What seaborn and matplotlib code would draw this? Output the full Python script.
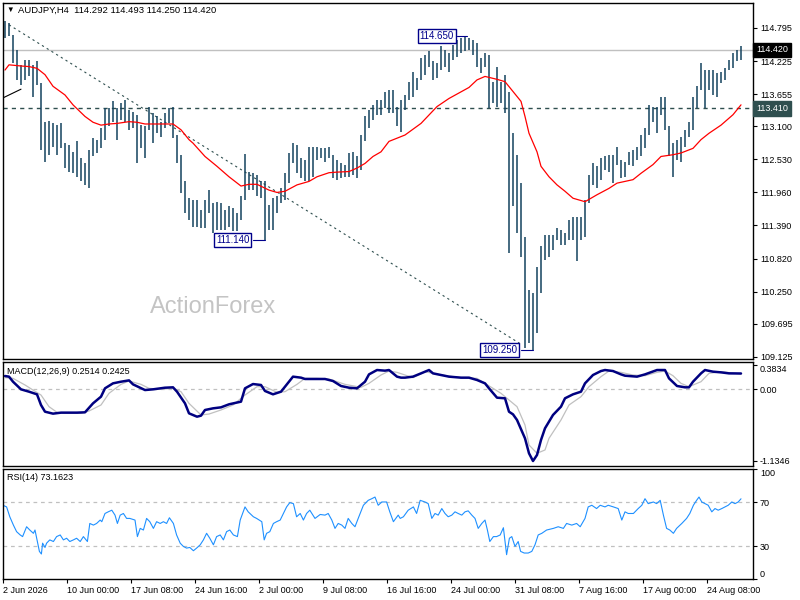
import numpy as np
import pandas as pd
import matplotlib
matplotlib.use("Agg")
import matplotlib.pyplot as plt
import seaborn as sns

# ---- AUDJPY H4 price bars (one slot = two H4 bars) ----
bar_high = [114.92, 114.88, 114.68, 114.42, 114.16, 114.25, 114.25, 114.16, 114.22, 113.84,
            113.18, 113.20, 113.15, 113.12, 113.15, 112.81, 112.78, 112.66, 112.84, 112.55,
            112.46, 112.69, 112.89, 112.87, 113.07, 113.41, 113.41, 113.53, 113.41, 113.50,
            113.56, 113.38, 113.35, 113.30, 113.12, 113.10, 113.44, 113.33, 113.27, 113.18,
            113.33, 113.41, 113.44, 112.95, 112.61, 112.15, 111.86, 111.83, 111.83, 111.66,
            111.83, 112.00, 111.77, 111.80, 111.77, 111.66, 111.72, 111.69, 111.60, 111.89,
            112.62, 112.32, 112.29, 112.26, 112.15, 112.15, 111.75, 111.86, 111.89, 112.03,
            112.29, 112.64, 112.81, 112.78, 112.55, 112.52, 112.75, 112.75, 112.75, 112.72,
            112.72, 112.75, 112.61, 112.52, 112.46, 112.44, 112.64, 112.66, 112.58, 112.95,
            113.27, 113.38, 113.47, 113.56, 113.56, 113.70, 113.73, 113.73, 113.44, 113.56,
            113.64, 113.87, 114.04, 113.93, 114.27, 114.33, 114.39, 114.22, 114.19, 114.48,
            114.42, 114.36, 114.50, 114.59, 114.62, 114.65, 114.62, 114.59, 114.53, 114.27,
            114.36, 114.33, 113.87, 114.13, 113.87, 113.99, 113.70, 112.98, 112.61, 112.12,
            111.20, 110.28, 110.22, 110.68, 111.03, 111.23, 111.23, 111.23, 111.34, 111.31,
            111.26, 111.49, 111.54, 111.54, 111.54, 111.83, 112.26, 112.46, 112.41, 112.55,
            112.58, 112.61, 112.61, 112.75, 112.52, 112.49, 112.66, 112.69, 112.75, 112.95,
            113.07, 113.47, 113.44, 113.44, 113.61, 113.61, 113.10, 112.81, 112.87, 112.92,
            113.04, 113.18, 113.61, 113.79, 114.19, 114.07, 114.07, 114.07, 114.02, 114.04,
            114.10, 114.25, 114.36, 114.42, 114.49]
bar_low = [114.62, 114.65, 114.19, 113.90, 113.81, 113.90, 113.96, 113.61, 113.81, 112.69,
           112.49, 112.61, 112.75, 112.61, 112.72, 112.38, 112.32, 112.29, 112.23, 112.15,
           112.09, 112.03, 112.58, 112.64, 112.72, 112.87, 113.10, 113.18, 112.87, 113.21,
           113.18, 113.04, 113.07, 112.46, 112.72, 112.55, 113.04, 112.81, 112.98, 112.92,
           113.07, 113.15, 112.89, 112.46, 111.95, 111.60, 111.49, 111.37, 111.37, 111.34,
           111.34, 111.60, 111.26, 111.31, 111.31, 111.31, 111.37, 111.29, 111.29, 111.49,
           111.83, 112.00, 112.00, 111.89, 111.86, 111.14, 111.31, 111.31, 111.60, 111.77,
           111.83, 112.12, 112.46, 112.29, 112.21, 112.15, 112.15, 112.23, 112.52, 112.55,
           112.49, 112.55, 112.21, 112.18, 112.21, 112.23, 112.23, 112.26, 112.21, 112.35,
           112.84, 113.07, 113.21, 113.30, 113.30, 113.41, 113.33, 113.33, 113.10, 113.01,
           113.38, 113.56, 113.61, 113.73, 113.90, 113.99, 114.13, 113.90, 113.93, 114.07,
           114.13, 114.04, 114.25, 114.30, 114.36, 114.39, 114.42, 114.33, 114.13, 114.02,
           114.13, 113.41, 113.50, 113.44, 113.50, 113.33, 110.91, 111.72, 111.26, 110.85,
           109.27, 109.36, 109.25, 109.53, 110.22, 110.80, 110.85, 110.97, 111.14, 111.06,
           111.06, 111.14, 111.14, 110.77, 111.14, 111.20, 111.77, 112.09, 112.03, 112.18,
           112.35, 112.32, 112.12, 112.44, 112.21, 112.23, 112.44, 112.41, 112.52, 112.58,
           112.72, 112.95, 113.18, 112.98, 113.30, 113.04, 112.58, 112.23, 112.52, 112.49,
           112.75, 112.92, 113.04, 113.41, 113.73, 113.41, 113.73, 113.64, 113.61, 113.84,
           113.90, 114.07, 114.10, 114.22, 114.25]

# red moving average
ma_idx = [0, 1, 4, 6, 8, 10, 12, 15, 17, 20, 22, 24, 26, 28, 31, 33, 35, 37, 40, 42,
          44, 46, 47, 50, 53, 56, 59, 61, 63, 66, 68, 70, 73, 76, 78, 81, 83, 86, 88, 90,
          92, 94, 96, 100, 104, 108, 111, 116, 118, 120, 123, 125, 127, 129, 130, 131, 133, 134, 136, 138,
          140, 142, 145, 148, 151, 153, 157, 159, 162, 164, 167, 169, 172, 174, 176, 179, 182, 184]
ma_val = [114.07, 114.16, 114.14, 114.13, 114.10, 113.99, 113.79, 113.64, 113.47, 113.27,
          113.17, 113.12, 113.14, 113.15, 113.18, 113.17, 113.14, 113.14, 113.14, 113.14,
          113.04, 112.87, 112.81, 112.58, 112.41, 112.23, 112.07, 112.10, 112.10, 112.00,
          111.96, 111.98, 112.09, 112.15, 112.23, 112.30, 112.31, 112.32, 112.38, 112.46,
          112.58, 112.66, 112.84, 112.95, 113.15, 113.44, 113.58, 113.77, 113.90, 113.96,
          113.91, 113.87, 113.70, 113.53, 113.27, 112.98, 112.66, 112.41, 112.23, 112.09,
          111.98, 111.86, 111.80, 111.92, 112.03, 112.12, 112.18, 112.29, 112.44, 112.58,
          112.61, 112.64, 112.72, 112.87, 112.98, 113.12, 113.30, 113.47]

# MACD(12,26,9): main line and signal
macd_idx = [0, 1, 2, 4, 6, 8, 9, 10, 12, 14, 15, 18, 20, 22, 24, 25, 27, 29, 31, 32,
            35, 37, 40, 42, 43, 45, 46, 48, 49, 50, 52, 54, 56, 59, 60, 62, 64, 65, 67, 69,
            70, 72, 74, 75, 78, 80, 82, 84, 86, 88, 90, 91, 93, 95, 96, 98, 99, 100, 102, 104,
            106, 107, 109, 111, 114, 116, 118, 120, 121, 123, 125, 126, 127, 128, 130, 131, 132, 133, 134, 135,
            137, 139, 140, 142, 144, 145, 147, 149, 150, 152, 154, 155, 158, 160, 163, 165, 166, 168, 170, 171,
            172, 174, 175, 177, 179, 181, 184]
macd_val = [0.211, 0.201, 0.121, 0.0, -0.037, -0.079, -0.248, -0.354, -0.385, -0.369,
            -0.369, -0.369, -0.364, -0.222, -0.116, 0.016, 0.095, 0.121, 0.142, 0.079,
            -0.011, 0.0, 0.026, 0.032, -0.037, -0.222, -0.380, -0.433, -0.417, -0.327,
            -0.301, -0.285, -0.237, -0.195, 0.016, 0.084, 0.069, -0.026, -0.079, -0.037,
            0.042, 0.201, 0.185, 0.164, 0.164, 0.164, 0.132, 0.053, 0.026, 0.016,
            0.121, 0.237, 0.306, 0.296, 0.306, 0.201, 0.185, 0.185, 0.201, 0.253,
            0.306, 0.253, 0.227, 0.201, 0.185, 0.185, 0.148, 0.095, 0.016, -0.132,
            -0.142, -0.354, -0.396, -0.485, -0.776, -1.013, -1.135, -1.040, -0.802, -0.617,
            -0.406, -0.274, -0.142, -0.079, -0.037, 0.095, 0.227, 0.290, 0.306, 0.290,
            0.237, 0.216, 0.201, 0.237, 0.306, 0.306, 0.174, 0.053, 0.032, 0.032,
            0.121, 0.253, 0.306, 0.280, 0.269, 0.253, 0.251]
sig_idx = [0, 2, 5, 7, 9, 11, 13, 15, 19, 21, 24, 26, 29, 31, 34, 36, 39, 42, 44, 46,
           49, 51, 54, 57, 60, 63, 65, 68, 70, 73, 75, 78, 81, 85, 89, 91, 94, 96, 98, 102,
           105, 109, 114, 118, 120, 124, 126, 128, 130, 131, 133, 135, 136, 139, 141, 144, 146, 149, 151, 154,
           157, 160, 163, 165, 167, 169, 171, 174, 176, 179, 184]
sig_val = [0.185, 0.174, 0.069, -0.011, -0.090, -0.274, -0.364, -0.380, -0.380, -0.343,
           -0.248, -0.063, 0.079, 0.132, 0.079, 0.016, 0.0, 0.016, -0.037, -0.222,
           -0.406, -0.391, -0.327, -0.248, -0.090, 0.042, 0.042, -0.047, -0.037, 0.079,
           0.174, 0.174, 0.164, 0.079, 0.032, 0.095, 0.227, 0.290, 0.269, 0.185,
           0.280, 0.227, 0.185, 0.174, 0.095, -0.063, -0.169, -0.274, -0.565, -0.881,
           -1.013, -0.960, -0.776, -0.485, -0.248, -0.116, 0.042, 0.201, 0.290, 0.269,
           0.227, 0.216, 0.269, 0.290, 0.216, 0.095, 0.042, 0.121, 0.253, 0.280, 0.243]

# RSI(14)
rsi_x = [-0.5, 0.4, 1.2, 2.1, 2.9, 3.8, 4.4, 5.4, 6.2, 7.1, 7.5, 8.1, 8.6, 9.1, 9.4, 10, 10.4, 11.2, 12.1, 12.9,
         13.8, 14.6, 15.4, 16.2, 17.1, 17.9, 18.8, 19.6, 20.6, 21.2, 22.1, 22.9, 23.8, 24.2, 25, 25.8, 26.7, 27.5, 28.1, 28.8,
         29.6, 30.4, 31.2, 32.5, 33.1, 33.8, 34.6, 35.4, 36.2, 37.1, 37.9, 38.8, 39.6, 40.4, 41.1, 42.1, 42.9, 43.8, 44.6, 45.4,
         46.2, 47.1, 47.9, 48.8, 49.6, 50.4, 51.2, 52.1, 52.9, 53.8, 54.6, 55.4, 56.2, 57.1, 58.1, 58.8, 60, 60.8, 62.1, 62.9,
         64.2, 64.8, 65.4, 66.2, 67.1, 67.9, 68.8, 69.6, 70.4, 71.2, 72.1, 72.9, 73.8, 74.6, 75.4, 76.2, 77.5, 78.8, 80, 80.8,
         81.7, 82.5, 83.3, 84.2, 85, 85.8, 86.7, 87.5, 88.3, 89.6, 90.8, 91.7, 92.5, 93.3, 94.2, 95.4, 96.2, 97.1, 98.3,
         98.8, 99.6, 100.8, 102.1, 102.9, 103.8, 105, 105.8, 106.7, 107.5, 108.3, 109.2, 110, 110.8, 111.7, 112.5, 113.3, 114.2, 115, 115.8,
         116.7, 117.5, 118.3, 119.2, 120, 120.6, 121.2, 122.1, 122.9, 123.8, 124.6, 125.4, 126.1, 126.7, 127.5, 128.3, 128.9, 129.8, 130.8, 131.7,
         132.5, 133.3, 134.2, 135.4, 137.1, 138.3, 139.6, 140.4, 141.7, 142.9, 143.8, 145, 145.8, 146.7, 147.9, 148.8, 150, 150.8, 152.1, 153.3,
         154.2, 155, 155.8, 157.1, 158.3, 159.2, 160, 160.8, 162.1, 162.9, 163.8, 164.6, 165.4, 166.2, 167.1, 167.9, 169.2, 170.4, 171.2, 172.1,
         172.9, 173.5, 174.2, 175, 175.8, 176.7, 177.5, 178.3, 179.2, 180, 180.8, 181.7, 182.5, 183.3, 184]
rsi_val = [67.3, 65.8, 56.8, 49.2, 43.2, 40.2, 38.7, 47.7, 44.7, 41.7, 44.7, 34.2, 25.2, 22.8, 32.7, 28.8, 32.7, 35.7, 34.2, 38.7,
           40.2, 35.7, 37.2, 34.2, 35.7, 37.2, 34.2, 38.7, 34.2, 50.7, 49.2, 50.7, 53.8, 52.3, 59.8, 61.3, 62.8, 58.3, 50.7, 58.3,
           59.8, 55.3, 55.3, 53.8, 38.7, 46.2, 44.7, 55.3, 52.3, 46.2, 52.3, 50.7, 52.3, 50.7, 55.9, 50.7, 40.2, 32.7, 29.7, 28.2,
           28.8, 25.8, 28.2, 31.2, 35.7, 41.7, 37.2, 31.2, 38.7, 40.2, 35.7, 43.2, 44.7, 40.2, 38.7, 53.8, 65.8, 61.3, 56.8, 55.3,
           52.3, 35.7, 41.7, 43.2, 50.7, 52.3, 53.8, 59.8, 65.8, 69.7, 68.8, 56.8, 59.8, 53.8, 59.8, 62.8, 55.3, 58.9, 58.3, 59.8,
           53.8, 46.2, 50.7, 49.2, 46.2, 55.3, 50.7, 47.7, 55.3, 67.3, 71.8, 73.3, 74.8, 67.3, 70.3, 70.3, 61.3, 52.3, 58.3,
           55.3, 56.8, 62.8, 65.8, 59.8, 71.8, 70.3, 68.8, 55.3, 59.8, 58.3, 64.3, 59.8, 56.8, 58.3, 61.3, 59.8, 58.3, 61.3, 62.2,
           58.3, 55.3, 46.2, 50.7, 53.8, 44.7, 34.2, 38.7, 38.7, 40.2, 46.8, 22.2, 37.2, 38.7, 29.7, 34.2, 25.2, 23.7, 23.7, 25.2,
           31.2, 40.2, 41.7, 44.7, 46.2, 47.7, 46.2, 50.7, 49.2, 50.7, 47.7, 55.3, 65.8, 67.3, 64.3, 67.3, 65.8, 67.3, 65.8, 64.3,
           53.8, 61.3, 59.8, 59.8, 64.3, 67.3, 73.3, 68.8, 70.3, 68.8, 71.8, 58.3, 46.2, 44.7, 41.7, 46.2, 50.7, 55.3, 59.8, 67.3,
           71.8, 74.8, 70.3, 68.8, 67.3, 61.3, 64.3, 62.8, 64.3, 65.8, 67.3, 70.3, 68.8, 70.3, 73.2]

price_ticks = [114.795, 114.225, 113.655, 113.100, 112.530, 111.960,
               111.390, 110.820, 110.250, 109.695, 109.125]
date_pos = [-0.5, 15.5, 31.5, 47.5, 63.5, 79.5, 95.5, 111.5, 127.5, 143.5, 159.5, 175.5]
date_labels = ["2 Jun 2026", "10 Jun 00:00", "17 Jun 08:00", "24 Jun 16:00", "2 Jul 00:00",
               "9 Jul 08:00", "16 Jul 16:00", "24 Jul 00:00", "31 Jul 08:00", "7 Aug 16:00",
               "17 Aug 00:00", "24 Aug 08:00"]

# drawn objects
trend_idx = [1, 129.3]
trend_price = [114.85, 109.33]
stub_idx = [-0.5, 4]
stub_price = [113.59, 113.74]
last_price = 114.420
level_price = 113.410
peak_price, peak_slot = 114.65, 115.5
dip_price, dip_slot = 111.14, 65
low_price, low_slot = 109.25, 132

BAR = "#14425e"
NAVY = "#00008b"

sns.set_theme(style="white")
plt.rcParams["font.family"] = ["Liberation Sans", "DejaVu Sans"]

fig = plt.figure(figsize=(8, 6), dpi=100)
ax = fig.add_axes([3 / 800, 1 - 359 / 600, 750 / 800, 356 / 600])
ax_m = fig.add_axes([3 / 800, 1 - 466 / 600, 750 / 800, 104 / 600])
ax_r = fig.add_axes([3 / 800, 1 - 579 / 600, 750 / 800, 110 / 600])

bars = pd.DataFrame({"slot": np.arange(len(bar_high)), "high": bar_high, "low": bar_low})

# ---- price panel ----
ax.axhline(last_price, color="#c0c0c0", lw=1)
ax.axhline(level_price, color="#2f4f4f", lw=1, ls=(0, (3, 3)))
ax.plot(trend_idx, trend_price, color="#2f4f4f", lw=0.8, ls=(0, (2, 3)))
ax.plot(stub_idx, stub_price, color="black", lw=0.8)
ax.vlines(bars["slot"], bars["low"], bars["high"], color=BAR, lw=1.1)
sns.lineplot(x=ma_idx, y=ma_val, ax=ax, color="#ff0000", lw=0.9)

box = dict(boxstyle="square,pad=0.2", fc="white", ec=NAVY, lw=1)
ax.text(peak_slot - 7.6, peak_price, "114.650", ha="center", va="center", fontsize=7, color=NAVY, bbox=box)
ax.plot([peak_slot - 2.4, peak_slot], [peak_price, peak_price], color=NAVY, lw=0.8)
ax.text(dip_slot - 8.1, dip_price, "111.140", ha="center", va="center", fontsize=7, color=NAVY, bbox=box)
ax.plot([dip_slot - 3, dip_slot], [dip_price, dip_price], color=NAVY, lw=0.8)
ax.text(low_slot - 8.3, low_price, "109.250", ha="center", va="center", fontsize=7, color=NAVY, bbox=box)
ax.plot([low_slot - 3, low_slot], [low_price, low_price], color=NAVY, lw=0.8)

ax.set_xlim(-0.5, 187)
ax.set_ylim(109.088, 115.226)
ax.set_xticks([])
ax.yaxis.tick_right()
ax.set_yticks(price_ticks)
ax.set_yticklabels([f"{p:.3f}" for p in price_ticks])

yt = ax.get_yaxis_transform()
ax.text(1.004, last_price, "114.420", transform=yt, ha="left", va="center", fontsize=6.5,
        color="white", bbox=dict(boxstyle="square,pad=0.3", fc="black", ec="black"))
ax.text(1.004, level_price, "113.410", transform=yt, ha="left", va="center", fontsize=6.5,
        color="white", bbox=dict(boxstyle="square,pad=0.3", fc="#2f4f4f", ec="#2f4f4f"))

# ---- MACD panel ----
ax_m.axhline(0, color="#c0c0c0", lw=0.9, ls=(0, (3, 3)))
sns.lineplot(x=sig_idx, y=sig_val, ax=ax_m, color="#c0c0c0", lw=0.9)
sns.lineplot(x=macd_idx, y=macd_val, ax=ax_m, color="#000080", lw=1.8)
ax_m.set_xlim(-0.5, 187)
ax_m.set_ylim(-1.214, 0.433)
ax_m.set_xticks([])
ax_m.yaxis.tick_right()
ax_m.set_yticks([0.3834, 0.0, -1.1346])
ax_m.set_yticklabels(["0.3834", "0.00", "-1.1346"])
ax_m.get_yticklabels()[0].set_va("top")

# ---- RSI panel ----
for lvl in (70, 30):
    ax_r.axhline(lvl, color="#c0c0c0", lw=0.9, ls=(0, (3, 3)))
sns.lineplot(x=rsi_x, y=rsi_val, ax=ax_r, color="#1e90ff", lw=0.8)
ax_r.set_xlim(-0.5, 187)
ax_r.set_ylim(0.5, 100.4)
ax_r.yaxis.tick_right()
ax_r.set_yticks([100, 70, 30, 0])
ax_r.set_yticklabels(["100", "70", "30", "0"])
ax_r.get_yticklabels()[0].set_va("top")
ax_r.get_yticklabels()[3].set_va("bottom")
ax_r.set_xticks(date_pos)
ax_r.set_xticklabels(date_labels, ha="left")

for a in (ax, ax_m, ax_r):
    for s in a.spines.values():
        s.set_color("black")
        s.set_linewidth(1)
    a.set_xlabel("")
    a.set_ylabel("")
    a.tick_params(axis="y", left=False, labelleft=False, right=True, labelright=True,
                  direction="out", length=3, width=0.8, pad=2, labelsize=6.5, colors="black")
ax_r.tick_params(axis="x", bottom=True, direction="out", length=3, width=0.8, pad=2,
                 labelsize=6.5, colors="black")

# ---- header texts and watermark ----
fig.text(6 / 800, 1 - 10 / 600, "\u25bc", fontsize=5.5, va="center", color="black")
fig.text(18 / 800, 1 - 10 / 600, "AUDJPY,H4  114.292 114.493 114.250 114.420",
         fontsize=6.8, va="center", color="black")
fig.text(7 / 800, 1 - 371 / 600, "MACD(12,26,9) 0.2514 0.2425", fontsize=6.5, va="center", color="black")
fig.text(7 / 800, 1 - 477 / 600, "RSI(14) 73.1623", fontsize=6.5, va="center", color="black")
fig.text(213 / 800, 1 - 307 / 600, "ActionForex", fontsize=17, ha="center", va="center", color="#c4c4c4")

fig.savefig("out.png", dpi=100)
